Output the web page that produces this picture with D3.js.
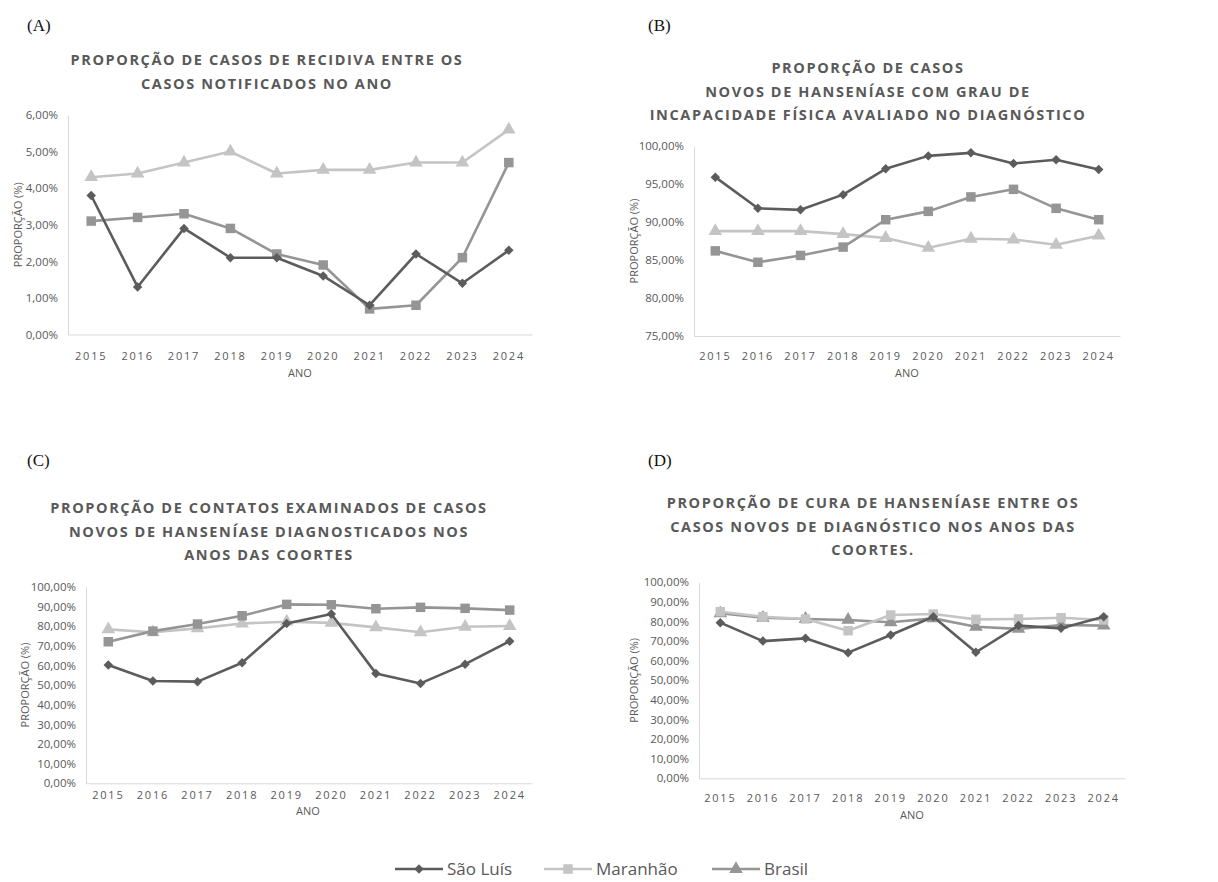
<!DOCTYPE html>
<html>
<head>
<meta charset="utf-8">
<script src="https://cdn.jsdelivr.net/npm/d3@7"></script>
<style>
  body { margin: 0; background: #fff; }
  svg text { font-family: "Open Sans", sans-serif; }
</style>
</head>
<body>
<svg id="chart" width="1218" height="882"></svg>
<script>
// data
var years = ["2015", "2016", "2017", "2018", "2019", "2020", "2021", "2022", "2023", "2024"];
var seriesNames = ["São Luís", "Maranhão", "Brasil"];

var recidivaSaoLuis = [3.8, 1.3, 2.9, 2.1, 2.1, 1.6, 0.8, 2.2, 1.4, 2.3];
var recidivaMaranhao = [3.1, 3.2, 3.3, 2.9, 2.2, 1.9, 0.7, 0.8, 2.1, 4.7];
var recidivaBrasil = [4.3, 4.4, 4.7, 5.0, 4.4, 4.5, 4.5, 4.7, 4.7, 5.6];

var incapacidadeSaoLuis = [95.9, 91.8, 91.6, 93.6, 97.0, 98.7, 99.1, 97.7, 98.2, 96.9];
var incapacidadeMaranhao = [86.2, 84.7, 85.6, 86.7, 90.3, 91.4, 93.3, 94.3, 91.8, 90.3];
var incapacidadeBrasil = [88.8, 88.8, 88.8, 88.4, 87.9, 86.6, 87.8, 87.7, 87.0, 88.2];

var contatosSaoLuis = [60.2, 52.0, 51.7, 61.3, 81.3, 86.1, 55.9, 50.8, 60.6, 72.3];
var contatosMaranhao = [72.0, 77.4, 81.0, 85.2, 91.0, 90.8, 88.8, 89.5, 89.0, 88.1];
var contatosBrasil = [78.3, 76.8, 78.8, 81.3, 82.2, 81.6, 79.3, 76.8, 79.6, 80.0];

var curaSaoLuis = [79.4, 70.0, 71.4, 64.1, 73.1, 82.4, 64.3, 77.9, 76.5, 82.4];
var curaMaranhao = [85.0, 82.4, 81.3, 75.3, 83.3, 83.8, 81.1, 81.3, 81.9, 80.8];
var curaBrasil = [84.2, 81.9, 81.3, 80.8, 79.6, 81.6, 77.3, 76.2, 78.2, 77.9];

var titleA = ["PROPORÇÃO DE CASOS DE RECIDIVA ENTRE OS", "CASOS NOTIFICADOS NO ANO"];
var titleB = ["PROPORÇÃO DE CASOS", "NOVOS DE HANSENÍASE COM GRAU DE", "INCAPACIDADE FÍSICA AVALIADO NO DIAGNÓSTICO"];
var titleC = ["PROPORÇÃO DE CONTATOS EXAMINADOS DE CASOS", "NOVOS DE HANSENÍASE DIAGNOSTICADOS NOS", "ANOS DAS COORTES"];
var titleD = ["PROPORÇÃO DE CURA DE HANSENÍASE ENTRE OS", "CASOS NOVOS DE DIAGNÓSTICO NOS ANOS DAS", "COORTES."];

var ticksA = [0, 1, 2, 3, 4, 5, 6];
var ticksB = [75, 80, 85, 90, 95, 100];
var ticksCD = [0, 10, 20, 30, 40, 50, 60, 70, 80, 90, 100];

var dark = "#5c5c5c", mid = "#959595", light = "#c4c4c4";
var textCol = "#595959";

var panels = [
  { tag: "(A)", tx: 27, ty: 31, title: titleA, titleX: 267, titleY: 65,
    left: 68, right: 532, top: 115, bottom: 334.5, ticks: ticksA,
    values: [recidivaSaoLuis, recidivaMaranhao, recidivaBrasil], colors: [dark, mid, light],
    ylabX: 18, xtickY: 356, anoX: 300, anoY: 377 },
  { tag: "(B)", tx: 648, ty: 31, title: titleB, titleX: 868, titleY: 73,
    left: 694, right: 1120, top: 146, bottom: 336, ticks: ticksB,
    values: [incapacidadeSaoLuis, incapacidadeMaranhao, incapacidadeBrasil], colors: [dark, mid, light],
    ylabX: 634, xtickY: 356, anoX: 907, anoY: 377 },
  { tag: "(C)", tx: 27, ty: 466, title: titleC, titleX: 269, titleY: 513,
    left: 86, right: 532, top: 586.7, bottom: 783.3, ticks: ticksCD,
    values: [contatosSaoLuis, contatosMaranhao, contatosBrasil], colors: [dark, mid, light],
    ylabX: 25, xtickY: 795, anoX: 308, anoY: 815 },
  { tag: "(D)", tx: 648, ty: 466, title: titleD, titleX: 873, titleY: 508,
    left: 699, right: 1125, top: 582.3, bottom: 778.3, ticks: ticksCD,
    values: [curaSaoLuis, curaMaranhao, curaBrasil], colors: [dark, light, mid],
    ylabX: 634, xtickY: 798, anoX: 912, anoY: 819 }
];

var svg = d3.select("#chart");

var shapes = [
  d3.symbol().type(d3.symbolSquare).size(45),
  d3.symbol().type(d3.symbolSquare).size(90),
  d3.symbol().type(d3.symbolTriangle).size(80)
];
var rotations = [45, 0, 0];

function pct(v) { return d3.format(".2f")(v).replace(".", ",") + "%"; }

panels.forEach(function(p) {
  var g = svg.append("g");

  g.append("text")
    .attr("x", p.tx).attr("y", p.ty)
    .style("font-family", "'Liberation Serif', serif")
    .style("font-size", "17px")
    .attr("fill", "#111")
    .text(p.tag);

  g.selectAll("text.title")
    .data(p.title)
    .enter().append("text")
    .attr("class", "title")
    .attr("x", p.titleX)
    .attr("y", function(d, i) { return p.titleY + i * 23.5; })
    .attr("text-anchor", "middle")
    .style("font-size", "14.5px")
    .style("font-weight", "bold")
    .style("letter-spacing", "1.6px")
    .attr("fill", textCol)
    .text(function(d) { return d; });

  var x = d3.scaleBand().domain(years).range([p.left, p.right]);
  var y = d3.scaleLinear().domain([p.ticks[0], p.ticks[p.ticks.length - 1]]).range([p.bottom, p.top]);

  var yAxis = g.append("g")
    .attr("transform", "translate(" + p.left + ",0)")
    .call(d3.axisLeft(y).tickValues(p.ticks).tickSize(0).tickPadding(10).tickFormat(pct));
  yAxis.select(".domain").attr("stroke", "#d9d9d9");
  yAxis.selectAll("text").style("font-size", "11.5px").attr("fill", textCol)
    .style("font-family", "'Open Sans', sans-serif");

  var xAxis = g.append("g")
    .attr("transform", "translate(0," + p.bottom + ")")
    .call(d3.axisBottom(x).tickSize(0).tickPadding(0));
  xAxis.select(".domain").attr("stroke", "#d9d9d9");
  xAxis.selectAll("text")
    .attr("y", p.xtickY - p.bottom).attr("dy", "0.35em")
    .style("font-size", "11px").style("letter-spacing", "1.8px")
    .attr("fill", textCol)
    .style("font-family", "'Open Sans', sans-serif");

  g.append("text")
    .attr("transform", "translate(" + p.ylabX + "," + ((p.top + p.bottom) / 2) + ") rotate(-90)")
    .attr("text-anchor", "middle")
    .attr("dy", "0.35em")
    .style("font-size", "11px")
    .attr("fill", textCol)
    .text("PROPORÇÃO (%)");

  g.append("text")
    .attr("x", p.anoX).attr("y", p.anoY)
    .attr("text-anchor", "middle")
    .style("font-size", "11px")
    .attr("fill", textCol)
    .text("ANO");

  var line = d3.line()
    .x(function(d, i) { return x(years[i]) + x.bandwidth() / 2; })
    .y(function(d) { return y(d); });

  // draw in reverse so São Luís ends on top
  [2, 1, 0].forEach(function(s) {
    var vals = p.values[s];
    g.append("path")
      .datum(vals)
      .attr("d", line)
      .attr("fill", "none")
      .attr("stroke", p.colors[s])
      .attr("stroke-width", 2.6)
      .attr("stroke-linejoin", "round");
    g.selectAll("path.m" + s)
      .data(vals)
      .enter().append("path")
      .attr("class", "m" + s)
      .attr("d", shapes[s])
      .attr("transform", function(d, i) {
        return "translate(" + (x(years[i]) + x.bandwidth() / 2) + "," + y(d) + ") rotate(" + rotations[s] + ")";
      })
      .attr("fill", p.colors[s]);
  });
});

// legend
var legendColors = [dark, light, mid];
var legendX = [395, 544, 712];
var lg = svg.append("g");
seriesNames.forEach(function(name, s) {
  var lx = legendX[s], ly = 869;
  lg.append("line")
    .attr("x1", lx).attr("x2", lx + 48)
    .attr("y1", ly).attr("y2", ly)
    .attr("stroke", legendColors[s]).attr("stroke-width", 2.6);
  lg.append("path")
    .attr("d", shapes[s])
    .attr("transform", "translate(" + (lx + 24) + "," + ly + ") rotate(" + rotations[s] + ")")
    .attr("fill", legendColors[s]);
  lg.append("text")
    .attr("x", lx + 52).attr("y", ly).attr("dy", "0.35em")
    .style("font-size", "17px")
    .attr("fill", textCol)
    .text(name);
});
</script>
</body>
</html>
